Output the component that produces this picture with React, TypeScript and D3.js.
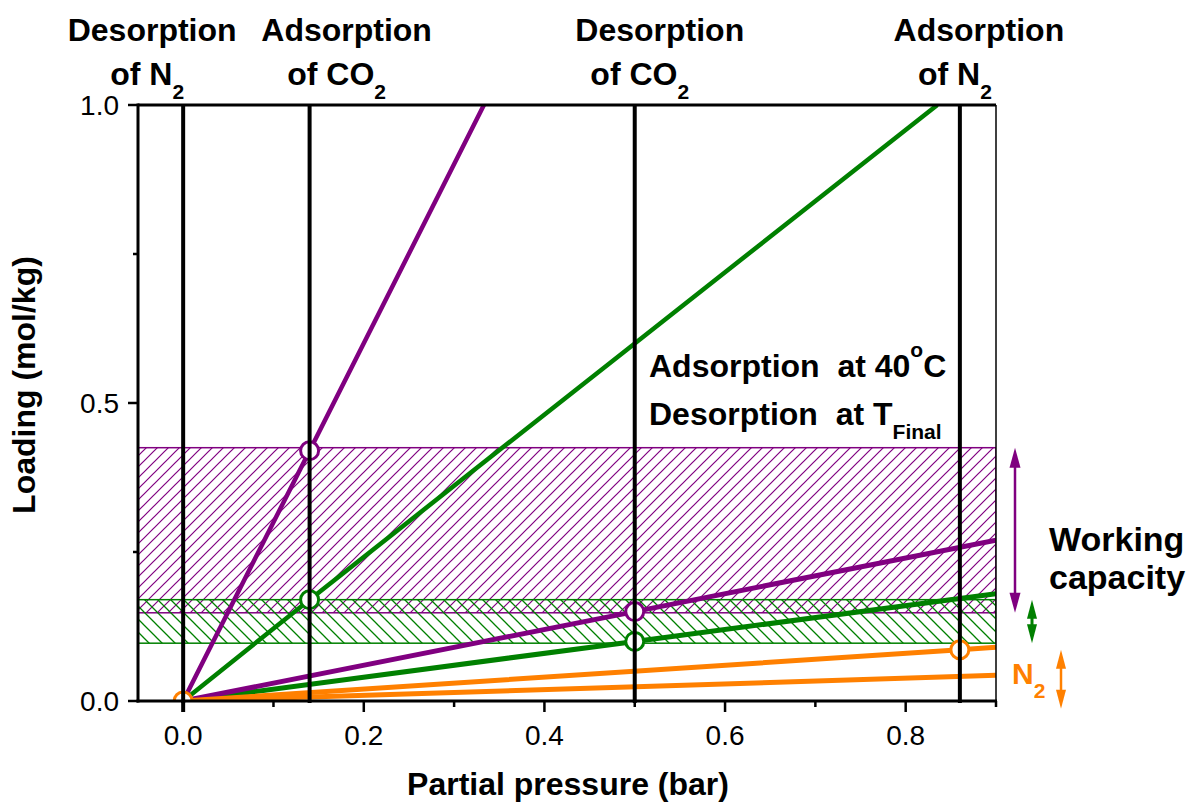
import React from "react";
import * as d3 from "d3";

const W = 1191;
const H = 802;

// the four process steps (partial pressure, bar)
const stepPressures = [0, 0.14, 0.5, 0.86];
const stepTitles = [
  ["Desorption", "of N", "2"],
  ["Adsorption", "of CO", "2"],
  ["Desorption", "of CO", "2"],
  ["Adsorption", "of N", "2"],
];

// isotherms, [pressure, loading]
const co2SteepAds = [[0, 0], [0.14, 0.42], [0.333, 1.0]];
const co2SteepDes = [[0, 0], [0.14, 0.17], [0.5, 0.6], [0.835, 1.0]];
const co2FlatAds = [[0, 0], [0.5, 0.15], [0.9, 0.27]];
const co2FlatDes = [[0, 0], [0.5, 0.1], [0.9, 0.18]];
const n2Ads = [[0, 0], [0.86, 0.086], [0.9, 0.09]];
const n2Des = [[0, 0], [0.9, 0.043]];

// open circles on the isotherms
const purpleMarks = [[0.14, 0.42], [0.5, 0.15]];
const greenMarks = [[0.14, 0.17], [0.5, 0.1]];
const orangeMarks = [[0, 0], [0.86, 0.086]];

// working capacity bands [low, high]
const purpleBand = [0.148, 0.425];
const greenBand = [0.097, 0.17];
const n2Span = [-0.013, 0.086];

const xTicks = [0, 0.2, 0.4, 0.6, 0.8];
const xMinor = [0.1, 0.3, 0.5, 0.7, 0.9];
const yTicks = [0, 0.5, 1.0];
const yMinor = [0.25, 0.75];

const PURPLE = "#800080";
const GREEN = "#008000";
const ORANGE = "#ff8000";
const FONT = "'Liberation Sans', Arial, sans-serif";

const left = 138, right = 996, top = 105, bottom = 701;

function Arrow({ x, y1, y2, color, head = 19, hw = 5.5, sw = 2.5 }) {
  return (
    <g fill={color} stroke="none">
      <line x1={x} x2={x} y1={y1 + head - 2} y2={y2 - head + 2} stroke={color} strokeWidth={sw} />
      <path d={`M${x},${y1} L${x - hw},${y1 + head} L${x + hw},${y1 + head} Z`} />
      <path d={`M${x},${y2} L${x - hw},${y2 - head} L${x + hw},${y2 - head} Z`} />
    </g>
  );
}

export default function App() {
  const x = d3.scaleLinear().domain([-0.05, 0.9]).range([left, right]);
  const y = d3.scaleLinear().domain([0, 1]).range([bottom, top]);
  const line = d3.line().x((d) => x(d[0])).y((d) => y(d[1]));

  const isotherms = [
    { pts: co2FlatDes, color: GREEN, w: 5 },
    { pts: co2FlatAds, color: PURPLE, w: 5 },
    { pts: n2Des, color: ORANGE, w: 5 },
    { pts: n2Ads, color: ORANGE, w: 5 },
    { pts: co2SteepDes, color: GREEN, w: 4.5 },
    { pts: co2SteepAds, color: PURPLE, w: 4.5 },
  ];
  const marks = [
    ...purpleMarks.map((p) => ({ p, color: PURPLE })),
    ...greenMarks.map((p) => ({ p, color: GREEN })),
    ...orangeMarks.map((p) => ({ p, color: ORANGE })),
  ];

  // where the step titles sit, pixel offsets from each step line
  const titleDx = [[-31, -36], [37, 27], [25, 5], [19, -5]];

  return (
    <svg width={W} height={H} style={{ position: "absolute", left: 0, top: 0, background: "#fff" }} fontFamily={FONT}>
      <defs>
        <clipPath id="plot">
          <rect x={left} y={top} width={right - left} height={bottom - top} />
        </clipPath>
        <pattern id="hatchP" patternUnits="userSpaceOnUse" width={11} height={11}>
          <path d="M0,11 L11,0 M-2,2 L2,-2 M9,13 L13,9" stroke={PURPLE} strokeWidth={1.2} />
        </pattern>
        <pattern id="hatchG" patternUnits="userSpaceOnUse" width={13} height={13}>
          <path d="M0,0 L13,13 M-2,11 L2,15 M11,-2 L15,2" stroke={GREEN} strokeWidth={1.3} />
        </pattern>
      </defs>

      <g clipPath="url(#plot)">
        <rect x={x(-0.05)} width={x(0.9) - x(-0.05)} y={y(purpleBand[1])} height={y(purpleBand[0]) - y(purpleBand[1])}
          fill="url(#hatchP)" stroke={PURPLE} strokeWidth={1.5} />
        <rect x={x(-0.05)} width={x(0.9) - x(-0.05)} y={y(greenBand[1])} height={y(greenBand[0]) - y(greenBand[1])}
          fill="url(#hatchG)" stroke={GREEN} strokeWidth={1.5} />
        {isotherms.map((s, i) => (
          <path key={i} d={line(s.pts)} fill="none" stroke={s.color} strokeWidth={s.w} />
        ))}
        {marks.map((m, i) => (
          <circle key={i} cx={x(m.p[0])} cy={y(m.p[1])} r={9} fill="#fff" stroke={m.color} strokeWidth={3} />
        ))}
      </g>

      {stepPressures.map((v, i) => (
        <line key={i} x1={x(v)} x2={x(v)} y1={y(1)} y2={y(0) + 2} stroke="#000" strokeWidth={4} />
      ))}

      {/* frame */}
      <line x1={left} x2={right} y1={top} y2={top} stroke="#000" strokeWidth={3} />
      <line x1={right} x2={right} y1={top} y2={bottom} stroke="#000" strokeWidth={1.5} />
      <line x1={left} x2={left} y1={top - 1.5} y2={bottom + 1.5} stroke="#000" strokeWidth={3} />
      <line x1={left - 1.5} x2={right + 1} y1={bottom} y2={bottom} stroke="#000" strokeWidth={3} />

      {xTicks.map((t) => (
        <g key={t}>
          <line x1={x(t)} x2={x(t)} y1={bottom} y2={bottom + 11} stroke="#000" strokeWidth={t === 0 ? 4 : 2.5} />
          <text x={x(t)} y={745} textAnchor="middle" fontSize={28}>{t.toFixed(1)}</text>
        </g>
      ))}
      {xMinor.map((t) => (
        <line key={t} x1={x(t)} x2={x(t)} y1={bottom} y2={bottom + 6} stroke="#000" strokeWidth={2.5} />
      ))}
      {yTicks.map((t) => (
        <g key={t}>
          <line x1={left - 10} x2={left} y1={y(t)} y2={y(t)} stroke="#000" strokeWidth={2.5} />
          <text x={119} y={y(t)} dy="0.36em" textAnchor="end" fontSize={28}>{t.toFixed(1)}</text>
        </g>
      ))}
      {yMinor.map((t) => (
        <line key={t} x1={left - 5} x2={left} y1={y(t)} y2={y(t)} stroke="#000" strokeWidth={2.5} />
      ))}

      <text x={568} y={795} textAnchor="middle" fontSize={32} fontWeight="bold">Partial pressure (bar)</text>
      <text transform={`translate(35,${(top + bottom) / 2 - 18}) rotate(-90)`} textAnchor="middle" fontSize={32} fontWeight="bold">
        Loading (mol/kg)
      </text>

      {stepTitles.map((t, i) => (
        <g key={i} fontWeight="bold" fontSize={32} textAnchor="middle">
          <text x={x(stepPressures[i]) + titleDx[i][0]} y={41}>{t[0]}</text>
          <text x={x(stepPressures[i]) + titleDx[i][1]} y={85}>
            {t[1]}
            <tspan fontSize={21} dy={14}>{t[2]}</tspan>
          </text>
        </g>
      ))}

      <g fontWeight="bold" fontSize={32}>
        <text x={649} y={377} style={{ whiteSpace: "pre" }}>
          {"Adsorption  at 40"}
          <tspan fontSize={21} dy={-20}>o</tspan>
          <tspan dy={20}>C</tspan>
        </text>
        <text x={649} y={425} style={{ whiteSpace: "pre" }}>
          {"Desorption  at T"}
          <tspan fontSize={21} dy={14}>Final</tspan>
        </text>
        <text x={1049} y={551} fontSize={34}>Working</text>
        <text x={1049} y={589} fontSize={34}>capacity</text>
        <text x={1012} y={684} fontSize={30} fill={ORANGE}>
          N<tspan fontSize={21} dy={14}>2</tspan>
        </text>
      </g>

      <Arrow x={right + 19} y1={y(purpleBand[1])} y2={y(purpleBand[0])} color={PURPLE} head={20} hw={5.5} sw={2.5} />
      <Arrow x={right + 36} y1={y(greenBand[1])} y2={y(greenBand[0])} color={GREEN} head={19} hw={5} sw={3} />
      <Arrow x={right + 65} y1={y(n2Span[1])} y2={y(n2Span[0])} color={ORANGE} head={19} hw={5} sw={2.5} />
    </svg>
  );
}
